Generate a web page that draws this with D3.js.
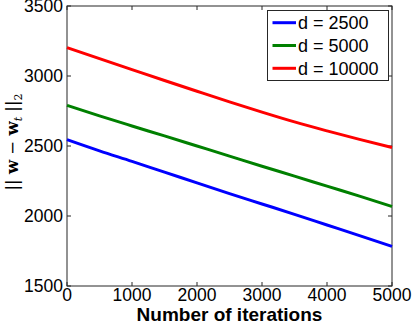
<!DOCTYPE html>
<html>
<head>
<meta charset="utf-8">
<script src="https://cdn.jsdelivr.net/npm/d3@7"></script>
<style>
  html, body { margin: 0; padding: 0; background: #fff; }
  svg text { font-family: "Liberation Sans", Arial, Helvetica, sans-serif; }
</style>
</head>
<body>
<svg id="chart" width="412" height="324"></svg>
<script>
// --- data ---
const iterations = [0, 500, 1000, 1500, 2000, 2500, 3000, 3500, 4000, 4500, 5000];
const d2500  = [2545, 2465, 2390, 2313, 2237, 2160, 2086, 2012, 1936, 1860, 1783];
const d5000  = [2790, 2715, 2643, 2572, 2500, 2428, 2355, 2285, 2213, 2142, 2068];
const d10000 = [3203, 3124, 3046, 2968, 2891, 2815, 2742, 2672, 2608, 2547, 2489];
const seriesNames = ["d = 2500", "d = 5000", "d = 10000"];
const xTicks = [0, 1000, 2000, 3000, 4000, 5000];
const yTicks = [1500, 2000, 2500, 3000, 3500];

const colors = ["#0000ff", "#008000", "#ff0000"];
const series = [d2500, d5000, d10000].map((vals, i) => ({
  name: seriesNames[i],
  color: colors[i],
  points: vals.map((v, j) => [iterations[j], v])
}));

const svg = d3.select("#chart");
const mLeft = 67, mRight = 392, mTop = 6, mBottom = 286;

const x = d3.scaleLinear().domain([0, 5000]).range([mLeft, mRight]);
const y = d3.scaleLinear().domain([1500, 3500]).range([mBottom, mTop]);

const tickLen = 4;
const axisColor = "#262626";

// box
svg.append("rect")
  .attr("x", mLeft).attr("y", mTop)
  .attr("width", mRight - mLeft).attr("height", mBottom - mTop)
  .attr("fill", "none").attr("stroke", axisColor).attr("stroke-width", 1);

// ticks (inside, all four sides)
const ticks = svg.append("g").attr("stroke", axisColor).attr("stroke-width", 1);
xTicks.forEach(t => {
  ticks.append("line").attr("x1", x(t)).attr("x2", x(t)).attr("y1", mBottom).attr("y2", mBottom - tickLen);
  ticks.append("line").attr("x1", x(t)).attr("x2", x(t)).attr("y1", mTop).attr("y2", mTop + tickLen);
});
yTicks.forEach(t => {
  ticks.append("line").attr("x1", mLeft).attr("x2", mLeft + tickLen).attr("y1", y(t)).attr("y2", y(t));
  ticks.append("line").attr("x1", mRight).attr("x2", mRight - tickLen).attr("y1", y(t)).attr("y2", y(t));
});

// tick labels
svg.append("g").selectAll("text").data(xTicks).join("text")
  .attr("x", d => x(d)).attr("y", 301)
  .attr("text-anchor", "middle")
  .attr("font-size", 17.5)
  .text(d => d);

svg.append("g").selectAll("text").data(yTicks).join("text")
  .attr("x", mLeft - 4).attr("y", d => y(d))
  .attr("dy", "0.36em")
  .attr("text-anchor", "end")
  .attr("font-size", 17.5)
  .text(d => d);

// lines
const line = d3.line().x(d => x(d[0])).y(d => y(d[1])).curve(d3.curveMonotoneX);
svg.append("g").selectAll("path").data(series).join("path")
  .attr("d", d => line(d.points))
  .attr("fill", "none")
  .attr("stroke", d => d.color)
  .attr("stroke-width", 3);

// axis labels
svg.append("text")
  .attr("x", (mLeft + mRight) / 2).attr("y", 321)
  .attr("text-anchor", "middle")
  .attr("font-size", 19)
  .attr("font-weight", "bold")
  .text("Number of iterations");

const yl = svg.append("text")
  .attr("transform", `translate(18, ${(mTop + mBottom) / 2 - 4}) rotate(-90)`)
  .attr("text-anchor", "middle")
  .attr("font-size", 16.5)
  .style("font-family", "'DejaVu Serif', 'Liberation Serif', serif");
yl.append("tspan").text("|| ");
yl.append("tspan").attr("font-weight", "bold").text("w");
yl.append("tspan").text(" \u2212 ");
yl.append("tspan").attr("font-weight", "bold").text("w");
yl.append("tspan").attr("font-style", "italic").attr("font-size", 11).attr("dy", 4).text("t");
yl.append("tspan").attr("dy", -4).text(" ||");
yl.append("tspan").attr("font-size", 11).attr("dy", 4).text("2");

// legend
const lg = svg.append("g");
lg.append("rect")
  .attr("x", 267.5).attr("y", 10.5).attr("width", 121).attr("height", 70)
  .attr("fill", "#fff").attr("stroke", axisColor).attr("stroke-width", 1);
series.forEach((s, i) => {
  const ly = 22.7 + i * 22.8;
  lg.append("line")
    .attr("x1", 272.5).attr("x2", 296).attr("y1", ly).attr("y2", ly)
    .attr("stroke", s.color).attr("stroke-width", 3);
  lg.append("text")
    .attr("x", 298).attr("y", ly).attr("dy", "0.36em")
    .attr("font-size", 18)
    .text(s.name);
});
</script>
</body>
</html>
